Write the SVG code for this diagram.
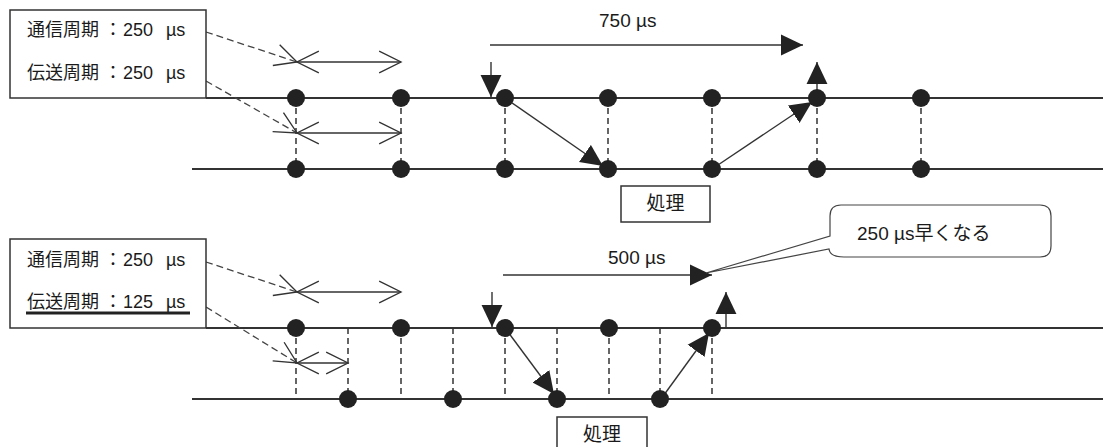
<svg xmlns="http://www.w3.org/2000/svg" width="1103" height="447" viewBox="0 0 1103 447">
<style>
.t{font-family:"Liberation Sans","Noto Sans CJK JP",sans-serif;font-size:18px;fill:#1a1a1a}
.t2{font-family:"Liberation Sans","Noto Sans CJK JP",sans-serif;font-size:19px;fill:#1a1a1a}
.box{fill:#fff;stroke:#333;stroke-width:1.5}
.tl{stroke:#333;stroke-width:1.8;fill:none}
.dash{stroke:#333;stroke-width:1.5;stroke-dasharray:6 4;fill:none}
.lead{stroke:#444;stroke-width:1.3;stroke-dasharray:7 4;fill:none}
.arr{stroke:#333;stroke-width:1.4;fill:none}
.dot{fill:#222}
</style>
<defs>
<marker id="fh" markerUnits="userSpaceOnUse" markerWidth="22" markerHeight="22" viewBox="0 0 20 20" refX="20" refY="10" orient="auto">
<path d="M0,0.5 L20,10 L0,19.5 Z" fill="#222"/>
</marker>
<marker id="oh" markerUnits="userSpaceOnUse" markerWidth="26" markerHeight="26" viewBox="-2 -2 25 25" refX="21" refY="10.5" orient="auto-start-reverse">
<path d="M0,0 L21,10.5 L0,21" fill="none" stroke="#333" stroke-width="1.3"/>
</marker>
</defs>

<g id="timelines">
<path class="tl" d="M206,98 H1103 M192,169 H1103 M206,328 H1103 M192,399 H1103"/>
</g>

<g id="connectors">
<path class="dash" d="M296,98 V169 M401,98 V169 M505,98 V169 M608,98 V169 M712,98 V169 M817,98 V169 M921,98 V169"/>
<path class="dash" d="M296,328 V399 M348,328 V399 M401,328 V399 M453,328 V399 M505,328 V399 M557,328 V399 M609,328 V399 M660,328 V399 M712,328 V399"/>
<path class="lead" d="M206,32 L297,62"/>
<path class="lead" d="M206,81 L297,133"/>
<path class="lead" d="M206,262 L297,292"/>
<path class="lead" d="M206,307 L297,363"/>
<g fill="none">
<path d="M206,32 L297,62" stroke="none" marker-end="url(#oh)"/>
<path d="M206,81 L297,133" stroke="none" marker-end="url(#oh)"/>
<path d="M206,262 L297,292" stroke="none" marker-end="url(#oh)"/>
<path d="M206,307 L297,363" stroke="none" marker-end="url(#oh)"/>
</g>
<path class="arr" d="M297,62 H401" marker-start="url(#oh)" marker-end="url(#oh)"/>
<path class="arr" d="M297,133 H401" marker-start="url(#oh)" marker-end="url(#oh)"/>
<path class="arr" d="M297,292 H401" marker-start="url(#oh)" marker-end="url(#oh)"/>
<path class="arr" d="M297,363 H348" marker-start="url(#oh)" marker-end="url(#oh)"/>
<path class="arr" d="M490,45 H803" marker-end="url(#fh)"/>
<path class="arr" d="M491,62 V97" marker-end="url(#fh)"/>
<path class="arr" d="M505,98 L603,166" marker-end="url(#fh)"/>
<path class="arr" d="M712,169 L812,102" marker-end="url(#fh)"/>
<path class="arr" d="M817,98 V62" marker-end="url(#fh)"/>
<path class="arr" d="M503,275 H712" marker-end="url(#fh)"/>
<path class="arr" d="M492,292 V327" marker-end="url(#fh)"/>
<path class="arr" d="M505,328 L554,394" marker-end="url(#fh)"/>
<path class="arr" d="M661,399 L709,333" marker-end="url(#fh)"/>
<path class="arr" d="M726,328 V292" marker-end="url(#fh)"/>
</g>

<g id="dots">
<circle class="dot" cx="296" cy="98" r="9"/><circle class="dot" cx="401" cy="98" r="9"/><circle class="dot" cx="505" cy="98" r="9"/><circle class="dot" cx="608" cy="98" r="9"/><circle class="dot" cx="712" cy="98" r="9"/><circle class="dot" cx="817" cy="98" r="9"/><circle class="dot" cx="921" cy="98" r="9"/>
<circle class="dot" cx="296" cy="169" r="9"/><circle class="dot" cx="401" cy="169" r="9"/><circle class="dot" cx="505" cy="169" r="9"/><circle class="dot" cx="608" cy="169" r="9"/><circle class="dot" cx="712" cy="169" r="9"/><circle class="dot" cx="817" cy="169" r="9"/><circle class="dot" cx="921" cy="169" r="9"/>
<circle class="dot" cx="296" cy="328" r="9"/><circle class="dot" cx="401" cy="328" r="9"/><circle class="dot" cx="505" cy="328" r="9"/><circle class="dot" cx="609" cy="328" r="9"/><circle class="dot" cx="712" cy="328" r="9"/>
<circle class="dot" cx="348" cy="399" r="9"/><circle class="dot" cx="453" cy="399" r="9"/><circle class="dot" cx="557" cy="399" r="9"/><circle class="dot" cx="660" cy="399" r="9"/>
</g>

<g id="label-top">
<rect class="box" x="10" y="10" width="196" height="88"/>
<text class="t" y="36"><tspan x="27">通信周期</tspan><tspan x="104">：</tspan><tspan x="123">250</tspan><tspan x="166">µs</tspan></text>
<text class="t" y="79"><tspan x="27">伝送周期</tspan><tspan x="104">：</tspan><tspan x="123">250</tspan><tspan x="166">µs</tspan></text>
</g>

<g id="label-bottom">
<rect class="box" x="10" y="239" width="196" height="89"/>
<text class="t" y="266"><tspan x="27">通信周期</tspan><tspan x="104">：</tspan><tspan x="123">250</tspan><tspan x="166">µs</tspan></text>
<text class="t" y="308"><tspan x="27">伝送周期</tspan><tspan x="104">：</tspan><tspan x="123">125</tspan><tspan x="166">µs</tspan></text>
<line x1="26" y1="313" x2="190" y2="313" stroke="#222" stroke-width="3"/>
</g>

<g id="label-750">
<text class="t2" x="599" y="27">750 µs</text>
</g>
<g id="label-500">
<text class="t2" x="608" y="264">500 µs</text>
</g>

<g id="proc-top">
<rect class="box" x="621" y="186" width="89" height="36"/>
<text class="t2" x="665.5" y="210" text-anchor="middle">処理</text>
</g>
<g id="proc-bottom">
<rect class="box" x="557" y="417" width="90" height="33"/>
<text class="t2" x="602" y="441" text-anchor="middle">処理</text>
</g>

<g id="callout">
<path d="M841,205 H1040 Q1051,205 1051,216 V246 Q1051,257 1040,257 H844 Q830,257 829,249 L706,273 L830,236 V216 Q830,205 841,205 Z" fill="#fff" stroke="#444" stroke-width="1.2"/>
<text class="t2" x="857" y="240">250 µs早くなる</text>
</g>
</svg>
